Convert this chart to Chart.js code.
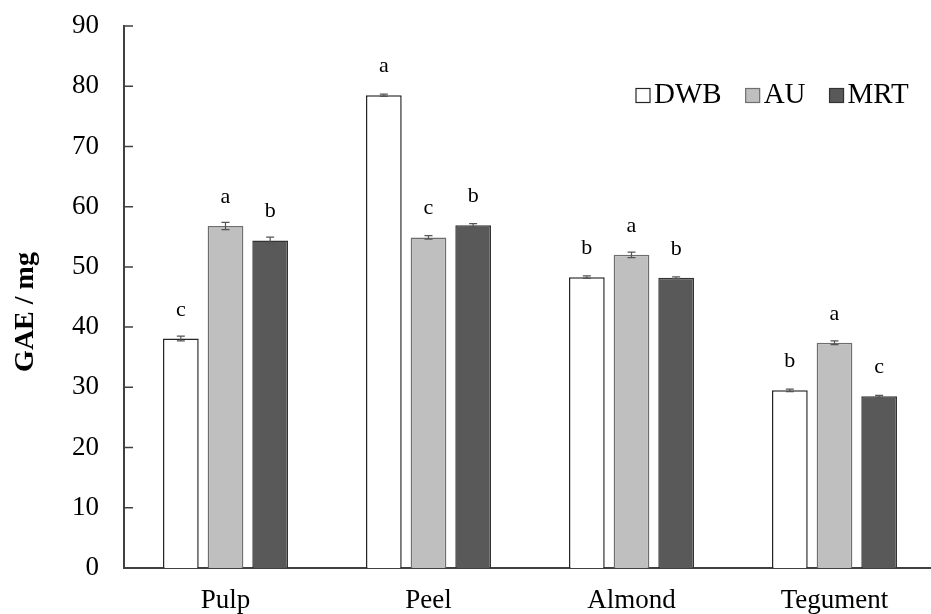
<!DOCTYPE html>
<html><head><meta charset="utf-8">
<script src="https://cdn.jsdelivr.net/npm/chart.js@4"></script>
<style>html,body{margin:0;padding:0;overflow:hidden;background:#fff}#wrap{width:940px;height:614px}</style>
</head><body><div id="wrap"><canvas id="c" width="940" height="614"></canvas></div>
<script>
const categories = ['Pulp', 'Peel', 'Almond', 'Tegument'];
const seriesNames = ['DWB', 'AU', 'MRT'];
const dwbValues = [38.1, 78.5, 48.3, 29.5];
const auValues = [56.8, 54.9, 52.0, 37.4];
const mrtValues = [54.4, 56.9, 48.2, 28.5];
const dwbErrors = [0.4, 0.2, 0.2, 0.2];
const auErrors = [0.6, 0.3, 0.45, 0.3];
const mrtErrors = [0.55, 0.3, 0.15, 0.15];
const dwbLetters = ['c', 'a', 'b', 'b'];
const auLetters = ['a', 'c', 'a', 'a'];
const mrtLetters = ['b', 'b', 'b', 'c'];
const yTickValues = [0, 10, 20, 30, 40, 50, 60, 70, 80, 90];
const yTitle = 'GAE / mg';

const FONT = '"Liberation Serif", "Times New Roman", serif';
const fills = ['#ffffff', '#bfbfbf', '#595959'];
const borders = ['#262626', '#6e6e6e', '#333333'];
const errs = [dwbErrors, auErrors, mrtErrors];
const letters = [dwbLetters, auLetters, mrtLetters];

const extras = {
  id: 'extras',
  afterDatasetsDraw(chart) {
    const ctx = chart.ctx;
    const ys = chart.scales.y;
    chart.data.datasets.forEach((ds, di) => {
      const meta = chart.getDatasetMeta(di);
      meta.data.forEach((bar, i) => {
        const v = ds.data[i], e = errs[di][i];
        const yt = ys.getPixelForValue(v + e), yb = ys.getPixelForValue(v - e);
        ctx.save();
        ctx.strokeStyle = '#555555';
        ctx.lineWidth = 1.2;
        ctx.beginPath();
        ctx.moveTo(bar.x, yt); ctx.lineTo(bar.x, yb);
        ctx.moveTo(bar.x - 4, yt); ctx.lineTo(bar.x + 4, yt);
        ctx.moveTo(bar.x - 4, yb); ctx.lineTo(bar.x + 4, yb);
        ctx.stroke();
        ctx.fillStyle = '#000';
        ctx.font = '22px ' + FONT;
        ctx.textAlign = 'center';
        ctx.textBaseline = 'alphabetic';
        ctx.fillText(letters[di][i], bar.x, bar.y - 23);
        ctx.restore();
      });
    });
  },
  afterDraw(chart) {
    const ctx = chart.ctx;
    const ys = chart.scales.y;
    const left = chart.chartArea.left;
    ctx.save();
    ctx.strokeStyle = '#404040';
    ctx.lineWidth = 1.5;
    ctx.beginPath();
    yTickValues.forEach(t => {
      const y = ys.getPixelForValue(t);
      ctx.moveTo(left, y); ctx.lineTo(left + 9, y);
    });
    ctx.stroke();
    ctx.fillStyle = '#000';
    ctx.font = 'bold 28px ' + FONT;
    ctx.translate(26, 312);
    ctx.rotate(-Math.PI / 2);
    ctx.textAlign = 'center';
    ctx.textBaseline = 'middle';
    ctx.fillText(yTitle, 0, 0);
    ctx.restore();
    ctx.save();
    ctx.font = '29px ' + FONT;
    ctx.textBaseline = 'alphabetic';
    let x = 636;
    chart.data.datasets.forEach((ds, di) => {
      ctx.fillStyle = fills[di];
      ctx.fillRect(x, 88.5, 14, 14);
      ctx.strokeStyle = borders[di];
      ctx.lineWidth = 1.2;
      ctx.strokeRect(x, 88.5, 14, 14);
      ctx.fillStyle = '#000';
      ctx.fillText(ds.label, x + 18, 103);
      x += 18 + ctx.measureText(ds.label).width + 24;
    });
    ctx.restore();
  }
};

new Chart(document.getElementById('c'), {
  type: 'bar',
  data: {
    labels: categories,
    datasets: [dwbValues, auValues, mrtValues].map((d, i) => ({
      label: seriesNames[i],
      data: d,
      backgroundColor: fills[i],
      borderColor: borders[i],
      borderWidth: 1.5,
      categoryPercentage: 0.66,
      barPercentage: 0.8
    }))
  },
  options: {
    responsive: false,
    animation: false,
    layout: { padding: { top: 26, right: 4, left: 0, bottom: 0 } },
    plugins: { legend: { display: false }, tooltip: { enabled: false } },
    scales: {
      x: {
        grid: { display: false, drawTicks: false },
        border: { color: '#404040', width: 2 },
        ticks: { color: '#000', font: { family: FONT, size: 27 }, padding: 17 },
        afterFit(s) { s.height = 46; s.paddingLeft = 0; s.paddingRight = 0; }
      },
      y: {
        min: 0, max: 90,
        afterBuildTicks(s) { s.ticks = yTickValues.map(v => ({ value: v })); },
        grid: { display: false, drawTicks: false },
        border: { color: '#404040', width: 2 },
        ticks: { color: '#000', font: { family: FONT, size: 27 }, padding: 25 },
        afterFit(s) { s.width = 124; s.paddingTop = 0; s.paddingBottom = 0; }
      }
    }
  },
  plugins: [extras]
});
</script></body></html>
